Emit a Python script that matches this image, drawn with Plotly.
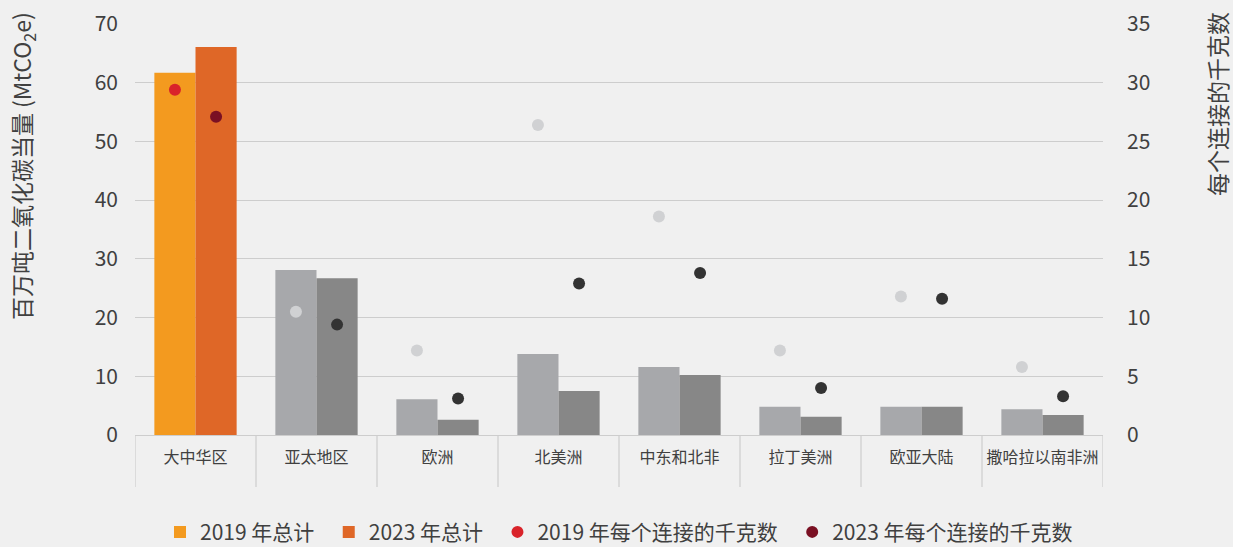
import plotly.graph_objects as go

categories = ["大中华区", "亚太地区", "欧洲", "北美洲", "中东和北非", "拉丁美洲", "欧亚大陆", "撒哈拉以南非洲"]
total_2019 = [61.7, 28.1, 6.1, 13.8, 11.6, 4.8, 4.8, 4.4]
total_2023 = [66.1, 26.7, 2.6, 7.5, 10.2, 3.1, 4.8, 3.4]
kg_2019 = [29.4, 10.5, 7.2, 26.4, 18.6, 7.2, 11.8, 5.8]
kg_2023 = [27.1, 9.4, 3.1, 12.9, 13.8, 4.0, 11.6, 3.3]

left_ticks = [0, 10, 20, 30, 40, 50, 60, 70]
right_ticks = [0, 5, 10, 15, 20, 25, 30, 35]

FONT = "Noto Sans CJK SC, Noto Sans, sans-serif"
TXT = "#404040"
GRID = "#cdcdcd"
PAD = "\u00a0\u00a0"

n = len(categories)
bar19_colors = ["#F39A1F"] + ["#A7A8AB"] * (n - 1)
bar23_colors = ["#DF6727"] + ["#878787"] * (n - 1)
dot19_colors = ["#D9232A"] + ["#D0D1D3"] * (n - 1)
dot23_colors = ["#7A1023"] + ["#333333"] * (n - 1)

fig = go.Figure()
fig.add_trace(go.Bar(x=categories, y=total_2019, name="2019 年总计" + PAD,
                     marker=dict(color=bar19_colors, line=dict(width=0)),
                     offsetgroup="a"))
fig.add_trace(go.Bar(x=categories, y=total_2023, name="2023 年总计" + PAD,
                     marker=dict(color=bar23_colors, line=dict(width=0)),
                     offsetgroup="b"))
fig.add_trace(go.Scatter(x=categories, y=kg_2019, name="2019 年每个连接的千克数" + PAD,
                         mode="markers", yaxis="y2", offsetgroup="a",
                         marker=dict(color=dot19_colors, size=12, line=dict(width=0))))
fig.add_trace(go.Scatter(x=categories, y=kg_2023, name="2023 年每个连接的千克数",
                         mode="markers", yaxis="y2", offsetgroup="b",
                         marker=dict(color=dot23_colors, size=12, line=dict(width=0))))

# category separator lines below the axis
shapes = []
for i in range(n + 1):
    shapes.append(dict(type="line", xref="x", yref="paper", x0=i - 0.5, x1=i - 0.5,
                       y0=0, y1=-0.1265, line=dict(color=GRID, width=1.2)))

fig.update_layout(
    width=1233, height=547,
    margin=dict(l=135, r=130, t=24, b=112),
    paper_bgcolor="#f0f0f0", plot_bgcolor="#f0f0f0",
    font=dict(family=FONT, color=TXT),
    barmode="group", bargap=0.32, bargroupgap=0,
    scattermode="group", scattergap=0.32,
    showlegend=True,
    legend=dict(orientation="h", x=0.5, xanchor="center", xref="paper",
                y=0.027, yanchor="middle", yref="container",
                font=dict(size=21, color=TXT), itemwidth=30, traceorder="normal"),
    xaxis=dict(type="category", range=[-0.5, n - 0.5], showgrid=False, automargin=False,
               showline=True, linecolor=GRID, linewidth=1.2,
               tickfont=dict(size=16, color=TXT), ticks="", ticklabelstandoff=8),
    yaxis=dict(range=[0, 70], tickvals=left_ticks, showgrid=True, gridcolor=GRID,
               gridwidth=1.2, zeroline=False, showline=False, ticks="", automargin=False,
               tickfont=dict(size=21, color=TXT), ticklabelstandoff=16),
    yaxis2=dict(range=[0, 35], tickvals=right_ticks, overlaying="y", side="right",
                showgrid=False, zeroline=False, showline=False, ticks="", automargin=False,
                tickfont=dict(size=21, color=TXT), ticklabelstandoff=23),
    shapes=shapes,
    annotations=[
        dict(text="百万吨二氧化碳当量 (MtCO<sub>2</sub>e)", xref="paper", yref="paper",
             x=-0.1167, y=1.034, xanchor="center", yanchor="top", textangle=-90,
             showarrow=False, font=dict(size=23, color=TXT, family=FONT)),
        dict(text="每个连接的千克数", xref="paper", yref="paper",
             x=1.1178, y=1.034, xanchor="center", yanchor="top", textangle=-90,
             showarrow=False, font=dict(size=23, color=TXT, family=FONT)),
    ],
)

fig.write_html("out.html", config={"displayModeBar": False},
               post_script="document.body.style.margin='0';document.body.style.overflow='hidden';")
